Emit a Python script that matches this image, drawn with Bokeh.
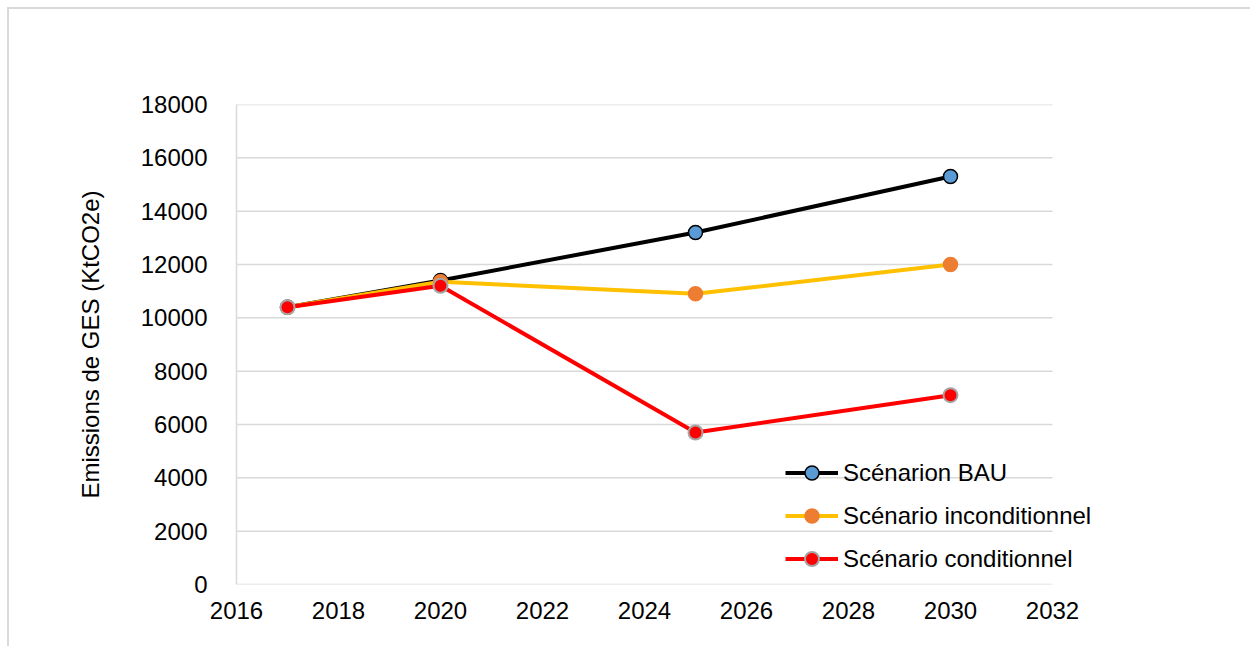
from bokeh.plotting import figure
from bokeh.models import Legend, LegendItem, FixedTicker
from bokeh.embed import file_html
from bokeh.resources import INLINE

years = [2017, 2020, 2025, 2030]
bau = [10400, 11400, 13200, 15300]
inconditionnel = [10400, 11350, 10900, 12000]
conditionnel = [10400, 11200, 5700, 7100]
x_ticks = [2016, 2018, 2020, 2022, 2024, 2026, 2028, 2030, 2032]
y_ticks = [0, 2000, 4000, 6000, 8000, 10000, 12000, 14000, 16000, 18000]
labels = ["Scénarion BAU", "Scénario inconditionnel", "Scénario conditionnel"]

FONT = "Liberation Sans"
FS = "24px"
X0, X1 = 2016, 2032
PX_PER_YEAR = 816 / 16.0
EXTRA_PX = 60  # room in the frame for the legend text beyond 2032

p = figure(width=1243, height=639, output_backend="svg", toolbar_location=None,
           x_range=(X0, X1 + EXTRA_PX / PX_PER_YEAR), y_range=(0, 18000),
           frame_width=816 + EXTRA_PX, frame_height=480,
           min_border_left=227, min_border_top=95, min_border_right=140, min_border_bottom=64)
p.margin = (7, 0, 0, 7)
p.styles = {"border-top": "2px solid #d9d9d9", "border-left": "2px solid #d9d9d9"}
p.outline_line_color = None
p.background_fill_color = "white"
p.border_fill_color = "white"

p.xgrid.grid_line_color = None
p.ygrid.grid_line_color = None
# horizontal gridlines and x axis line limited to the 2016-2032 span
p.segment(x0=[X0] * len(y_ticks), x1=[X1] * len(y_ticks), y0=y_ticks, y1=y_ticks,
          line_color="#d9d9d9", line_width=1.5)

p.xaxis.ticker = FixedTicker(ticks=x_ticks)
p.yaxis.ticker = FixedTicker(ticks=y_ticks)
for ax in (p.xaxis, p.yaxis):
    ax.major_tick_line_color = None
    ax.minor_tick_line_color = None
    ax.major_tick_out = 0
    ax.major_tick_in = 0
    ax.axis_line_color = "#d9d9d9"
    ax.axis_line_width = 1.5
    ax.major_label_text_font = FONT
    ax.major_label_text_font_size = FS
    ax.major_label_text_color = "black"
p.xaxis.axis_line_color = None
p.xaxis.major_label_standoff = 17
p.yaxis.major_label_standoff = 29
p.yaxis.axis_label = "Emissions de GES (KtCO2e)"
p.yaxis.axis_label_text_font = FONT
p.yaxis.axis_label_text_font_size = FS
p.yaxis.axis_label_text_font_style = "normal"
p.yaxis.axis_label_text_color = "black"
p.yaxis.axis_label_standoff = 34

r1 = p.line(years, bau, line_color="black", line_width=4)
m1 = p.scatter(years, bau, size=14, fill_color="#5b9bd5", line_color="black", line_width=1.5)
r2 = p.line(years, inconditionnel, line_color="#ffc000", line_width=4)
m2 = p.scatter(years, inconditionnel, size=14, fill_color="#ed7d31", line_color="#ed7d31", line_width=1.5)
r3 = p.line(years, conditionnel, line_color="#ff0000", line_width=4)
m3 = p.scatter(years, conditionnel, size=14, fill_color="#ff0000", line_color="#a5a5a5", line_width=2)

legend = Legend(items=[LegendItem(label=labels[0], renderers=[r1, m1]),
                       LegendItem(label=labels[1], renderers=[r2, m2]),
                       LegendItem(label=labels[2], renderers=[r3, m3])],
                location=(549, 8), padding=0, margin=0, spacing=8,
                glyph_width=53, glyph_height=35, label_height=34, label_standoff=5,
                label_text_font=FONT, label_text_font_size=FS, label_text_color="black",
                border_line_color=None, background_fill_alpha=0)
p.add_layout(legend, "center")

open("out.html", "w").write(file_html(p, INLINE))
